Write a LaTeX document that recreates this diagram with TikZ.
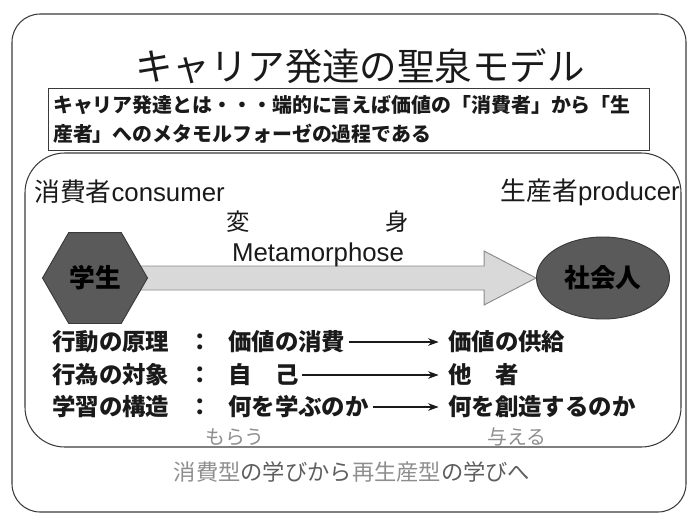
\documentclass[tikz,border=0pt]{standalone}
\usepackage{fontspec}
\usepackage{xcolor}
\setmainfont{Noto Sans CJK JP}
\newfontfamily\latinsans{Liberation Sans}
\usetikzlibrary{shapes.geometric,arrows.meta,calc,backgrounds}
\definecolor{ink}{HTML}{1A1A1A}
\definecolor{frame}{HTML}{3A3A3A}
\definecolor{darkfill}{HTML}{5A5A5A}
\definecolor{arrowfill}{HTML}{D9D9D9}
\definecolor{arrowline}{HTML}{8A8A8A}
\definecolor{softtext}{HTML}{5E5E5E}
\definecolor{paletext}{HTML}{8E8E8E}
\newcommand{\fsz}[1]{\fontsize{#1}{#1}\selectfont}

\begin{document}
\begin{tikzpicture}[x=0.03cm, y=-0.03cm,
    rowtext/.style={anchor=west, inner sep=0pt, text=ink, font=\fsz{20}\bfseries},
    rowarrow/.style={-{Stealth[length=9pt,width=6.5pt]}, line width=1.3pt, draw=ink,
                     shorten <=3pt, shorten >=8pt},
    darkshape/.style={draw=frame, fill=darkfill, line width=0.8pt, inner sep=0pt,
                      text=black, font=\fsz{22}\bfseries}]
    \useasboundingbox (0,0) rectangle (689,518);
    % frames
    \draw[frame, line width=0.9pt, rounded corners=24pt] (12,14) rectangle (686,512);
    \draw[frame, line width=0.9pt, rounded corners=34pt] (25,153) rectangle (681,447);
    \node[font=\fsz{32}, text=ink] (title) at (360,66) {キャリア発達の聖泉モデル};
    \node[draw=frame, line width=0.8pt, anchor=north west, minimum height=1.86cm,
          text width=17.75cm, inner xsep=0.14cm, align=left, text=ink,
          font=\fontsize{17}{25}\selectfont\bfseries] (gist) at (48,88)
          {キャリア発達とは・・・端的に言えば価値の「消費者」から「生\\産者」へのメタモルフォーゼの過程である};
    % consumer / producer
    \node[anchor=west, inner sep=0pt, text=ink, font=\fsz{22}] (consumer) at (34,192)
          {消費者{\latinsans consumer}};
    \node[anchor=east, inner sep=0pt, text=ink, font=\fsz{22}] (producer) at (680,192)
          {生産者{\latinsans producer}};
    \node[text=ink, font=\fsz{20}] (henshin) at (318,222) {変\hspace{5.8em}身};
    \node[text=ink, font=\fsz{22}\latinsans] (meta) at (318,255) {Metamorphose};
    \node[darkshape, regular polygon, regular polygon sides=6, minimum size=3.15cm]
          (gakusei) at (95,278) {学生};
    \node[darkshape, ellipse, minimum width=3.99cm, minimum height=2.46cm]
          (shakai) at (603,278) {社会人};
    \begin{scope}[on background layer]
      \draw[arrowline, fill=arrowfill, line width=0.8pt]
        ($(gakusei.center)+(0,-12)$) -- ($(shakai.west)+(-52,-12)$)
        -- ($(shakai.west)+(-52,-27)$) -- (shakai.west)
        -- ($(shakai.west)+(-52,27)$) -- ($(shakai.west)+(-52,12)$)
        -- ($(gakusei.center)+(0,12)$) -- cycle;
    \end{scope}
    % rows
    \foreach \y/\lab/\src/\dst [count=\i] in {342/行動の原理/価値の消費/価値の供給,
        375/行為の対象/自　己/他　者, 407/学習の構造/何を学ぶのか/何を創造するのか} {
      \node[rowtext] (lab\i) at (52,\y) {\lab};
      \node[rowtext, anchor=center] (colon\i) at (200,\y) {：};
      \node[rowtext] (src\i) at (228,\y) {\src};
      \node[rowtext] (dst\i) at (448,\y) {\dst};
      \draw[rowarrow] (src\i.east) -- (dst\i.west);
    }
    \node[text=paletext, font=\fsz{17}] (morau) at (235,437) {もらう};
    \node[text=paletext, font=\fsz{17}] (ataeru) at (517,437) {与える};
    \node[text=softtext, font=\fsz{19}] (motto) at (352,472)
          {\textcolor{paletext}{消費型}の学びから\textcolor{paletext}{再生産型}の学びへ};
  \end{tikzpicture}
\end{document}
